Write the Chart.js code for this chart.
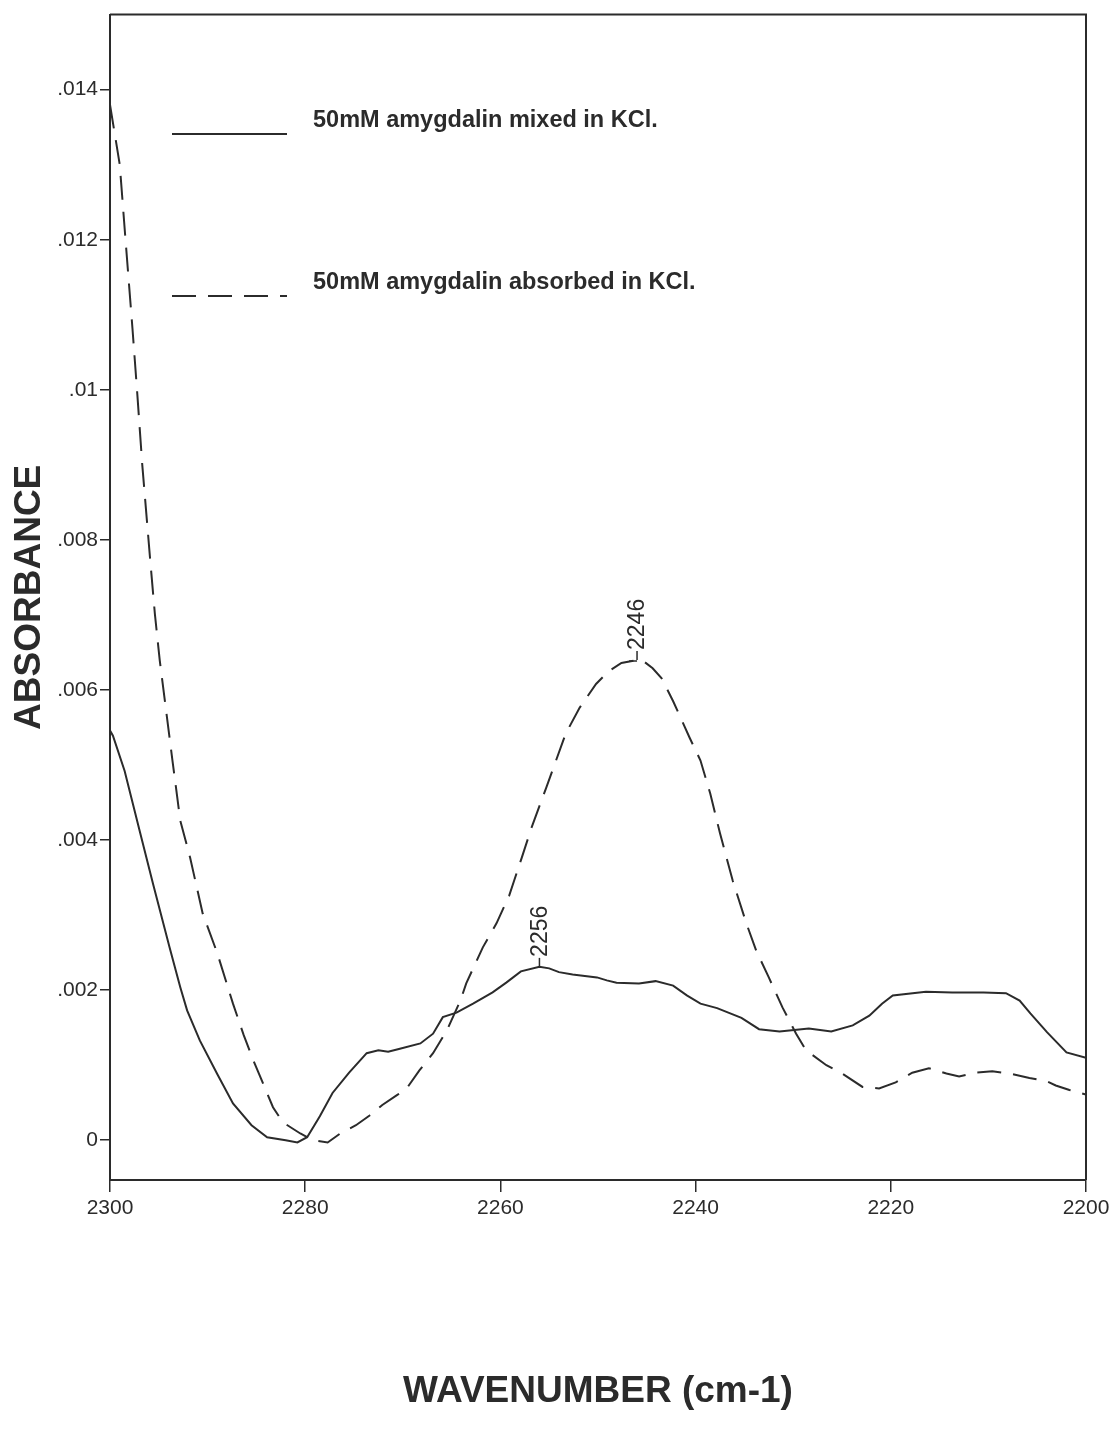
<!DOCTYPE html>
<html>
<head>
<meta charset="utf-8">
<script src="https://cdn.jsdelivr.net/npm/chart.js@4.4.1/dist/chart.umd.min.js"></script>
<style>
  html, body { margin: 0; padding: 0; background: #fff; }
  canvas { display: block; }
</style>
</head>
<body>
<canvas id="spectrum" width="1117" height="1436"></canvas>
<script>
// IR spectra of amygdalin in KCl, 2300-2200 cm-1 region
const mixedWavenumbers = [2300.0, 2299.7, 2298.5, 2296.9, 2295.6, 2293.9, 2292.8, 2292.1, 2290.8, 2289.0,
  2287.4, 2285.5, 2283.9, 2282.0, 2280.8, 2279.8, 2278.5, 2277.2, 2275.5, 2273.7,
  2272.5, 2271.5, 2270.3, 2268.2, 2266.9, 2265.9, 2264.5, 2262.8, 2260.8, 2259.4,
  2257.9, 2256.0, 2255.0, 2254.0, 2252.6, 2250.1, 2249.1, 2248.1, 2245.8, 2244.1,
  2242.3, 2240.9, 2239.5, 2237.8, 2235.3, 2233.5, 2231.4, 2228.4, 2226.1, 2223.9,
  2222.2, 2220.9, 2219.8, 2216.4, 2213.7, 2210.5, 2208.2, 2206.8, 2205.7, 2204.0,
  2202.0, 2200.0];
const mixedAbsorbance = [0.00546, 0.00539, 0.00492, 0.00409, 0.00342, 0.00257, 0.00204, 0.00173, 0.00133, 0.00088,
  0.00049, 0.00020, 0.00004, 0.00000, -0.00003, 0.00004, 0.00032, 0.00063, 0.00090, 0.00116,
  0.00120, 0.00118, 0.00122, 0.00129, 0.00142, 0.00164, 0.00170, 0.00182, 0.00197, 0.00210,
  0.00225, 0.00231, 0.00229, 0.00224, 0.00221, 0.00217, 0.00213, 0.00210, 0.00209, 0.00212,
  0.00206, 0.00193, 0.00182, 0.00176, 0.00163, 0.00148, 0.00145, 0.00149, 0.00145, 0.00153,
  0.00166, 0.00182, 0.00193, 0.00198, 0.00197, 0.00197, 0.00196, 0.00186, 0.00169, 0.00144,
  0.00117, 0.00110];

const absorbedWavenumbers = [2300.0, 2299.0, 2298.5, 2297.7, 2297.2, 2296.7, 2295.9, 2295.4, 2294.9, 2293.6,
  2292.8, 2291.8, 2290.5, 2289.0, 2287.4, 2286.3, 2285.3, 2283.3, 2282.3,
  2280.5, 2279.2, 2277.7, 2276.4, 2274.8, 2273.4, 2272.1, 2270.6, 2269.6, 2268.3,
  2266.9, 2265.5, 2264.1, 2263.5, 2261.8, 2260.4, 2259.1, 2257.8, 2256.8, 2255.3,
  2254.3, 2253.3, 2251.9, 2250.2, 2248.9, 2247.6, 2246.0, 2245.2, 2244.4, 2243.5,
  2242.3, 2240.6, 2239.5, 2238.5, 2237.5, 2236.2, 2234.8, 2233.8, 2232.5, 2231.1,
  2229.7, 2228.7, 2226.6, 2225.0, 2222.9, 2221.2, 2219.5, 2217.8, 2216.1, 2214.3,
  2213.0, 2211.3, 2209.6, 2207.9, 2205.8, 2204.1, 2203.1, 2201.7, 2200.0];
const absorbedAbsorbance = [0.0138, 0.0130, 0.01215, 0.01082, 0.00994, 0.00901, 0.00776, 0.00701, 0.00639, 0.00506,
  0.00426, 0.00377, 0.00302, 0.00249, 0.00182, 0.00140, 0.00106, 0.00044, 0.00024,
  0.00009, 0.00000, -0.00003, 0.00009, 0.00020, 0.00033, 0.00047, 0.00060, 0.00069, 0.00093,
  0.00116, 0.00146, 0.00186, 0.00209, 0.00257, 0.00289, 0.00326, 0.00377, 0.00417, 0.00470,
  0.00506, 0.00542, 0.00576, 0.00608, 0.00625, 0.00636, 0.00640, 0.00637, 0.00629, 0.00616,
  0.00585, 0.00536, 0.00506, 0.00462, 0.00409, 0.00346, 0.00289, 0.00253, 0.00217, 0.00177,
  0.00142, 0.00120, 0.00100, 0.00089, 0.00071, 0.00069, 0.00077, 0.00090, 0.00096, 0.00089,
  0.00085, 0.00090, 0.00092, 0.00089, 0.00083, 0.00079, 0.00073, 0.00067, 0.00061];

const seriesLabels = ['50mM amygdalin mixed in KCl.', '50mM amygdalin absorbed in KCl.'];

const xTickValues = [2300, 2280, 2260, 2240, 2220, 2200];
const yTickValues = [0, 0.002, 0.004, 0.006, 0.008, 0.01, 0.012, 0.014];
const yTickLabels = ['0', '.002', '.004', '.006', '.008', '.01', '.012', '.014'];

// peak markers: which series, the wavenumber, and the printed label
const peakSeries = [0, 1];
const peakWavenumbers = [2256, 2246];
const peakLabels = ['2256', '2246'];

const INK = '#2b2b2b';
const FONT = "'Liberation Sans', Arial, Helvetica, sans-serif";

function toPoints(xs, ys) {
  return xs.map((x, i) => ({ x: x, y: ys[i] }));
}

// frame on the top and right sides of the plot area
const framePlugin = {
  id: 'frame',
  afterDraw(chart) {
    const { ctx, chartArea: a } = chart;
    ctx.save();
    ctx.strokeStyle = INK;
    ctx.lineWidth = 2;
    ctx.beginPath();
    ctx.moveTo(a.left, a.top);
    ctx.lineTo(a.right, a.top);
    ctx.lineTo(a.right, a.bottom);
    ctx.stroke();
    ctx.restore();
  }
};

// in-plot legend: line sample with bold caption above-right of it
const inlineLegend = {
  id: 'inlineLegend',
  afterDraw(chart, args, opts) {
    const { ctx } = chart;
    ctx.save();
    chart.data.datasets.forEach((ds, i) => {
      const y = opts.rows[i];
      ctx.strokeStyle = ds.borderColor;
      ctx.lineWidth = ds.borderWidth;
      ctx.setLineDash(ds.borderDash || []);
      ctx.beginPath();
      ctx.moveTo(opts.lineStart, y);
      ctx.lineTo(opts.lineEnd, y);
      ctx.stroke();
      ctx.setLineDash([]);
      ctx.fillStyle = INK;
      ctx.font = 'bold 23.5px ' + FONT;
      ctx.textBaseline = 'middle';
      ctx.textAlign = 'left';
      ctx.fillText(ds.label, opts.textStart, y - opts.textLift);
    });
    ctx.restore();
  }
};

// vertical wavenumber labels over the peaks
const peakMarks = {
  id: 'peakMarks',
  afterDatasetsDraw(chart) {
    const { ctx, scales: { x, y } } = chart;
    ctx.save();
    ctx.strokeStyle = INK;
    ctx.fillStyle = INK;
    ctx.lineWidth = 1.5;
    ctx.font = '23px ' + FONT;
    peakWavenumbers.forEach((w, k) => {
      const ds = chart.data.datasets[peakSeries[k]];
      const pt = ds.data.find(p => p.x === w);
      const px = x.getPixelForValue(pt.x);
      const py = y.getPixelForValue(pt.y);
      ctx.beginPath();
      ctx.moveTo(px, py);
      ctx.lineTo(px, py - 9);
      if (k === 1) {
        ctx.moveTo(px, py + 1);
        ctx.lineTo(px - 8, py + 1);
      }
      ctx.stroke();
      ctx.save();
      ctx.translate(px, py - 10);
      ctx.rotate(-Math.PI / 2);
      ctx.textAlign = 'left';
      ctx.textBaseline = 'middle';
      ctx.fillText(peakLabels[k], 0, 1);
      ctx.restore();
    });
    ctx.restore();
  }
};

new Chart(document.getElementById('spectrum'), {
  type: 'scatter',
  data: {
    datasets: [
      {
        label: seriesLabels[0],
        data: toPoints(mixedWavenumbers, mixedAbsorbance),
        showLine: true,
        borderColor: INK,
        borderWidth: 2,
        pointRadius: 0,
        tension: 0
      },
      {
        label: seriesLabels[1],
        data: toPoints(absorbedWavenumbers, absorbedAbsorbance),
        showLine: true,
        borderColor: INK,
        borderWidth: 2,
        borderDash: [24, 12],
        pointRadius: 0,
        tension: 0
      }
    ]
  },
  options: {
    responsive: false,
    animation: false,
    layout: { padding: { top: 13, right: 31, bottom: 22, left: 0 } },
    plugins: {
      legend: { display: false },
      tooltip: { enabled: false },
      inlineLegend: { rows: [134, 296], lineStart: 172, lineEnd: 287, textStart: 313, textLift: 13 }
    },
    scales: {
      x: {
        type: 'linear',
        position: 'bottom',
        reverse: true,
        min: 2200,
        max: 2300,
        afterBuildTicks: s => { s.ticks = xTickValues.map(v => ({ value: v })); },
        afterFit: s => { s.height = 234; },
        ticks: {
          color: INK,
          font: { family: FONT, size: 21 },
          padding: 4,
          maxRotation: 0,
          autoSkip: false,
          callback: v => String(v)
        },
        grid: { drawOnChartArea: false, drawTicks: true, tickLength: 12, color: INK, lineWidth: 1.5 },
        border: { display: true, color: INK, width: 2 },
        title: {
          display: true,
          text: 'WAVENUMBER (cm-1)',
          color: INK,
          font: { family: FONT, size: 37, weight: 'bold' },
          padding: 0
        }
      },
      y: {
        type: 'linear',
        min: -0.00053,
        max: 0.015,
        afterBuildTicks: s => { s.ticks = yTickValues.map(v => ({ value: v })); },
        afterFit: s => { s.width = 110; },
        ticks: {
          color: INK,
          font: { family: FONT, size: 21 },
          padding: 2,
          callback: (v, i) => yTickLabels[i]
        },
        grid: { drawOnChartArea: false, drawTicks: true, tickLength: 10, color: INK, lineWidth: 1.5 },
        border: { display: true, color: INK, width: 2 },
        title: {
          display: true,
          text: 'ABSORBANCE',
          color: INK,
          font: { family: FONT, size: 37, weight: 'bold' },
          padding: { top: 8, bottom: 0 }
        }
      }
    }
  },
  plugins: [framePlugin, inlineLegend, peakMarks]
});
</script>
</body>
</html>
